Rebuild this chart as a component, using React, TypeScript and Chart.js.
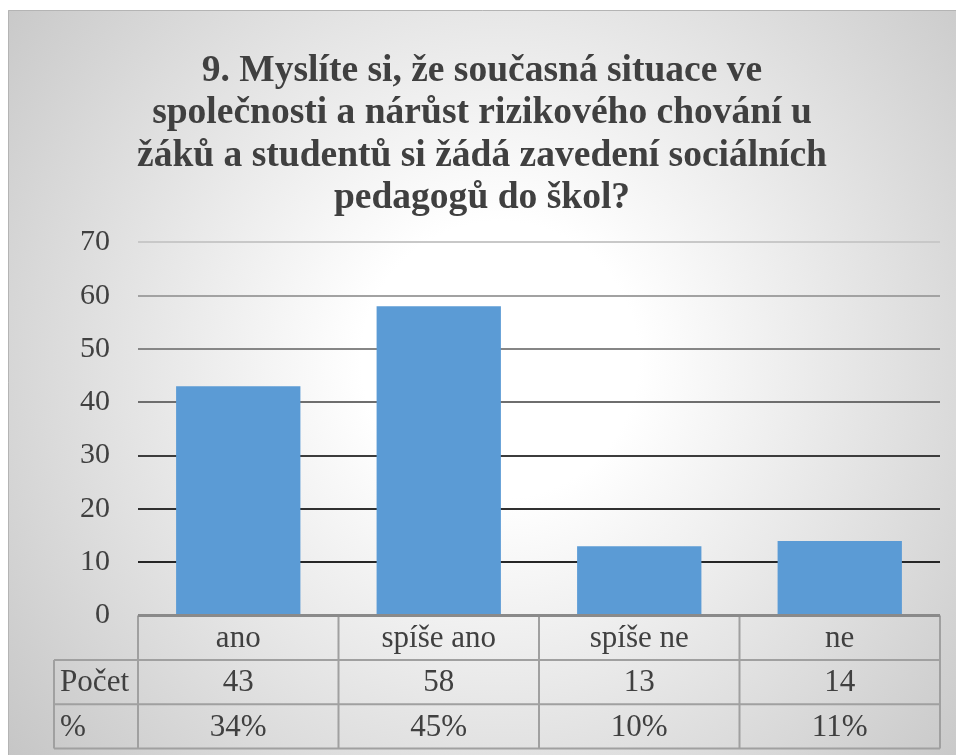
import React, { useEffect, useRef } from "react";
import { Chart, registerables } from "chart.js";

Chart.register(...registerables);

const TITLE_LINES = [
  "9. Myslíte si, že současná situace ve",
  "společnosti a nárůst rizikového chování u",
  "žáků a studentů si žádá zavedení sociálních",
  "pedagogů do škol?",
];
const CATEGORIES = ["ano", "spíše ano", "spíše ne", "ne"];
const COUNTS = [43, 58, 13, 14];
const PERCENTS = ["34%", "45%", "10%", "11%"];
const ROW_LABELS = ["Počet", "%"];
const Y_MIN = 0;
const Y_MAX = 70;
const Y_STEP = 10;

const FONT = "'Liberation Serif'";
const TEXT_COLOR = "#404040";
const BAR_COLOR = "#5b9bd5";

const GRID_COLORS: Record<number, string> = {
  10: "#262626",
  20: "#303030",
  30: "#3c3c3c",
  40: "#6e6e6e",
  50: "#868686",
  60: "#a2a2a2",
  70: "#c8c8c8",
};

const W = 948;
const H = 745;

// every text draw gets its own font object (tiny size offsets)
let titleSeq = 0;
let tableSeq = 0;
function titleFont() {
  titleSeq += 1;
  return "bold " + (37.5 + titleSeq * 0.01).toFixed(2) + "px " + FONT;
}
function tableFont() {
  tableSeq += 1;
  return (31 + tableSeq * 0.01).toFixed(2) + "px " + FONT;
}

function drawText(ctx: any, text: string, x: number, y: number, font: string, align: string) {
  ctx.save();
  ctx.font = font;
  ctx.textAlign = align;
  ctx.textBaseline = "middle";
  ctx.fillText(text, x, y);
  ctx.restore();
}

const backgroundPlugin = {
  id: "bgGradient",
  beforeDraw(chart: any) {
    const { ctx } = chart;
    ctx.save();
    const g = ctx.createRadialGradient(492, 350, 0, 492, 350, 630);
    g.addColorStop(0, "#ffffff");
    g.addColorStop(0.22, "#ffffff");
    g.addColorStop(1, "#c6c6c6");
    ctx.fillStyle = g;
    ctx.fillRect(0, 0, W, H);
    ctx.strokeStyle = "#b4b4b4";
    ctx.lineWidth = 1;
    ctx.beginPath();
    ctx.moveTo(0.5, H);
    ctx.lineTo(0.5, 0.5);
    ctx.lineTo(W, 0.5);
    ctx.stroke();
    ctx.restore();
  },
};

const titlePlugin = {
  id: "serifTitle",
  afterDraw(chart: any) {
    const { ctx } = chart;
    ctx.save();
    ctx.fillStyle = TEXT_COLOR;
    const lineH = 42.5;
    TITLE_LINES.forEach((line, i) => {
      drawText(ctx, line, W / 2, 61 + i * lineH, titleFont(), "center");
    });
    ctx.restore();
  },
};

const tablePlugin = {
  id: "dataTable",
  afterDraw(chart: any) {
    const { ctx, chartArea, scales } = chart;
    const x = scales.x;
    const n = CATEGORIES.length;
    const colW = (chartArea.right - chartArea.left) / n;
    const top = chartArea.bottom;
    const rowH = 44.3;
    const labelLeft = 46;
    const right = chartArea.right;
    ctx.save();
    ctx.strokeStyle = "#a0a0a0";
    ctx.lineWidth = 2;
    ctx.beginPath();
    for (let r = 1; r <= 3; r++) {
      const y = top + r * rowH;
      ctx.moveTo(labelLeft, y);
      ctx.lineTo(right, y);
    }
    for (let i = 0; i <= n; i++) {
      const xx = i < n ? x.getPixelForValue(i) - colW / 2 : x.getPixelForValue(n - 1) + colW / 2;
      ctx.moveTo(xx, top);
      ctx.lineTo(xx, top + 3 * rowH);
    }
    ctx.moveTo(labelLeft, top + rowH);
    ctx.lineTo(labelLeft, top + 3 * rowH);
    ctx.stroke();

    ctx.strokeStyle = "#8a8a8a";
    ctx.lineWidth = 3;
    ctx.beginPath();
    ctx.moveTo(chartArea.left, top);
    ctx.lineTo(right, top);
    ctx.stroke();

    ctx.fillStyle = TEXT_COLOR;
    for (let i = 0; i < n; i++) {
      const cx = x.getPixelForValue(i);
      drawText(ctx, CATEGORIES[i], cx, top + rowH * 0.5 + 1, tableFont(), "center");
      drawText(ctx, String(COUNTS[i]), cx, top + rowH * 1.5 + 1, tableFont(), "center");
      drawText(ctx, PERCENTS[i], cx, top + rowH * 2.5 + 1, tableFont(), "center");
    }
    drawText(ctx, ROW_LABELS[0], 52, top + rowH * 1.5 + 1, tableFont(), "left");
    drawText(ctx, ROW_LABELS[1], 52, top + rowH * 2.5 + 1, tableFont(), "left");
    ctx.restore();
  },
};

export default function App() {
  const ref = useRef<HTMLCanvasElement | null>(null);

  useEffect(() => {
    if (!ref.current) return;
    const chart = new Chart(ref.current, {
      type: "bar",
      data: {
        labels: CATEGORIES,
        datasets: [
          {
            label: "Počet",
            data: COUNTS,
            backgroundColor: BAR_COLOR,
            borderWidth: 0,
            barPercentage: 0.62,
            categoryPercentage: 1.0,
          },
        ],
      },
      options: {
        responsive: false,
        animation: false,
        layout: { padding: { left: 0, right: 16, top: 232.3, bottom: 139.4 } },
        plugins: {
          legend: { display: false },
          tooltip: { enabled: false },
          title: { display: false },
        },
        scales: {
          x: { display: false, grid: { display: false } },
          y: {
            min: Y_MIN,
            max: Y_MAX,
            afterFit(scale: any) {
              scale.width = 130;
            },
            ticks: {
              stepSize: Y_STEP,
              padding: 28,
              color: TEXT_COLOR,
              font: { family: FONT, size: 30 },
            },
            border: { display: false },
            grid: {
              drawTicks: false,
              color: (c: any) => GRID_COLORS[c.tick?.value] ?? "rgba(0,0,0,0)",
              lineWidth: (c: any) => (c.tick?.value === 0 ? 0 : 2),
            },
          },
        },
      } as any,
      plugins: [backgroundPlugin, titlePlugin, tablePlugin],
    });
    return () => chart.destroy();
  }, []);

  return (
    <div style={{ position: "fixed", left: 8, top: 10, width: W, height: H }}>
      <canvas ref={ref} width={W} height={H} style={{ display: "block" }} />
    </div>
  );
}
